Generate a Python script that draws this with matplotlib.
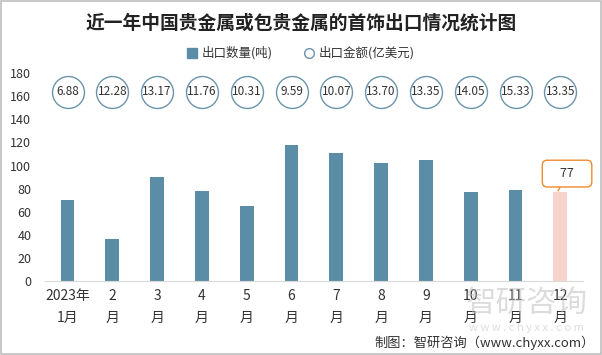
import numpy as np
import matplotlib.pyplot as plt
from matplotlib.patches import Rectangle

plt.rcParams['font.family'] = ['Noto Sans CJK SC', 'DejaVu Sans']

months = ["2023年\n1月", "2\n月", "3\n月", "4\n月", "5\n月", "6\n月",
          "7\n月", "8\n月", "9\n月", "10\n月", "11\n月", "12\n月"]
volume = [70, 36, 90, 78, 65, 118, 111, 102, 105, 77, 79, 77]
amount = [6.88, 12.28, 13.17, 11.76, 10.31, 9.59, 10.07, 13.70, 13.35, 14.05, 15.33, 13.35]
circle_level = 164

bar_color = '#5B8EA6'
last_color = '#F7D4CB'

fig = plt.figure(figsize=(6.02, 3.55), dpi=100)
ax = fig.add_axes([0.075, 0.2085, 0.893, 0.5855])

x = np.arange(len(months))
colors = [bar_color] * (len(months) - 1) + [last_color]
ax.bar(x, volume, width=0.31, color=colors)

ax.plot(x, [circle_level] * len(x), linestyle='none', marker='o', markersize=23,
        markerfacecolor='white', markeredgecolor='#6A94AA', markeredgewidth=1.0)
for xi, v in zip(x, amount):
    ax.text(xi, circle_level, f"{v:.2f}", ha='center', va='center', fontsize=8.5, color='#333333')

ax.annotate(f"    {volume[-1]}    ", xy=(x[-1] - 0.05, volume[-1] + 1),
            xytext=(x[-1] + 0.15, volume[-1] + 16),
            ha='center', va='center', fontsize=9, color='#333333',
            bbox=dict(boxstyle='round,pad=0.55,rounding_size=0.4', fc='white', ec='#EE8A2E', lw=1),
            arrowprops=dict(arrowstyle='-', color='#EE8A2E', lw=1, shrinkA=0, shrinkB=0))

ax.set_xlim(-0.5, len(months) - 0.5)
ax.set_ylim(0, 180)
ax.set_yticks(range(0, 181, 20))
ax.set_xticks(x)
ax.set_xticklabels(months, fontsize=10, linespacing=1.7, color='#333333')
ax.tick_params(axis='y', labelsize=9, colors='#333333', length=0, pad=10)
ax.tick_params(axis='x', length=0, pad=6)
for s in ['top', 'right', 'left']:
    ax.spines[s].set_visible(False)
ax.spines['bottom'].set_color('#D9D9D9')

h_bar = plt.Line2D([], [], linestyle='none', marker='s', markersize=7,
                   markerfacecolor=bar_color, markeredgecolor=bar_color)
h_circ = plt.Line2D([], [], linestyle='none', marker='o', markersize=7,
                    markerfacecolor='white', markeredgecolor='#6A94AA')
fig.legend([h_bar, h_circ], ['出口数量(吨)', '出口金额(亿美元)'], loc='center',
           bbox_to_anchor=(0.5, 0.85), ncol=2, frameon=False,
           fontsize=9, handlelength=0.8, handletextpad=0.4, columnspacing=2.5,
           labelcolor='#333333')

fig.text(0.5, 0.935, '近一年中国贵金属或包贵金属的首饰出口情况统计图', ha='center', va='center',
         fontsize=13.5, fontweight='bold', color='#222222')
fig.text(0.988, 0.035, '制图：智研咨询（www.chyxx.com）', ha='right', va='center',
         fontsize=9.5, color='#333333')
fig.text(0.875, 0.145, '智研咨询', ha='center', va='center', fontsize=22, color='#BBBBBB', alpha=0.5)
fig.text(0.875, 0.075, 'w w w . c h y x x . c o m', ha='center', va='center', fontsize=8,
         color='#BBBBBB', alpha=0.5)

fig.patches.append(Rectangle((0.001, 0.002), 0.997, 0.995, transform=fig.transFigure,
                             fill=False, ec='#BFBFBF', lw=1.2))

fig.savefig('out.png', dpi=100)
